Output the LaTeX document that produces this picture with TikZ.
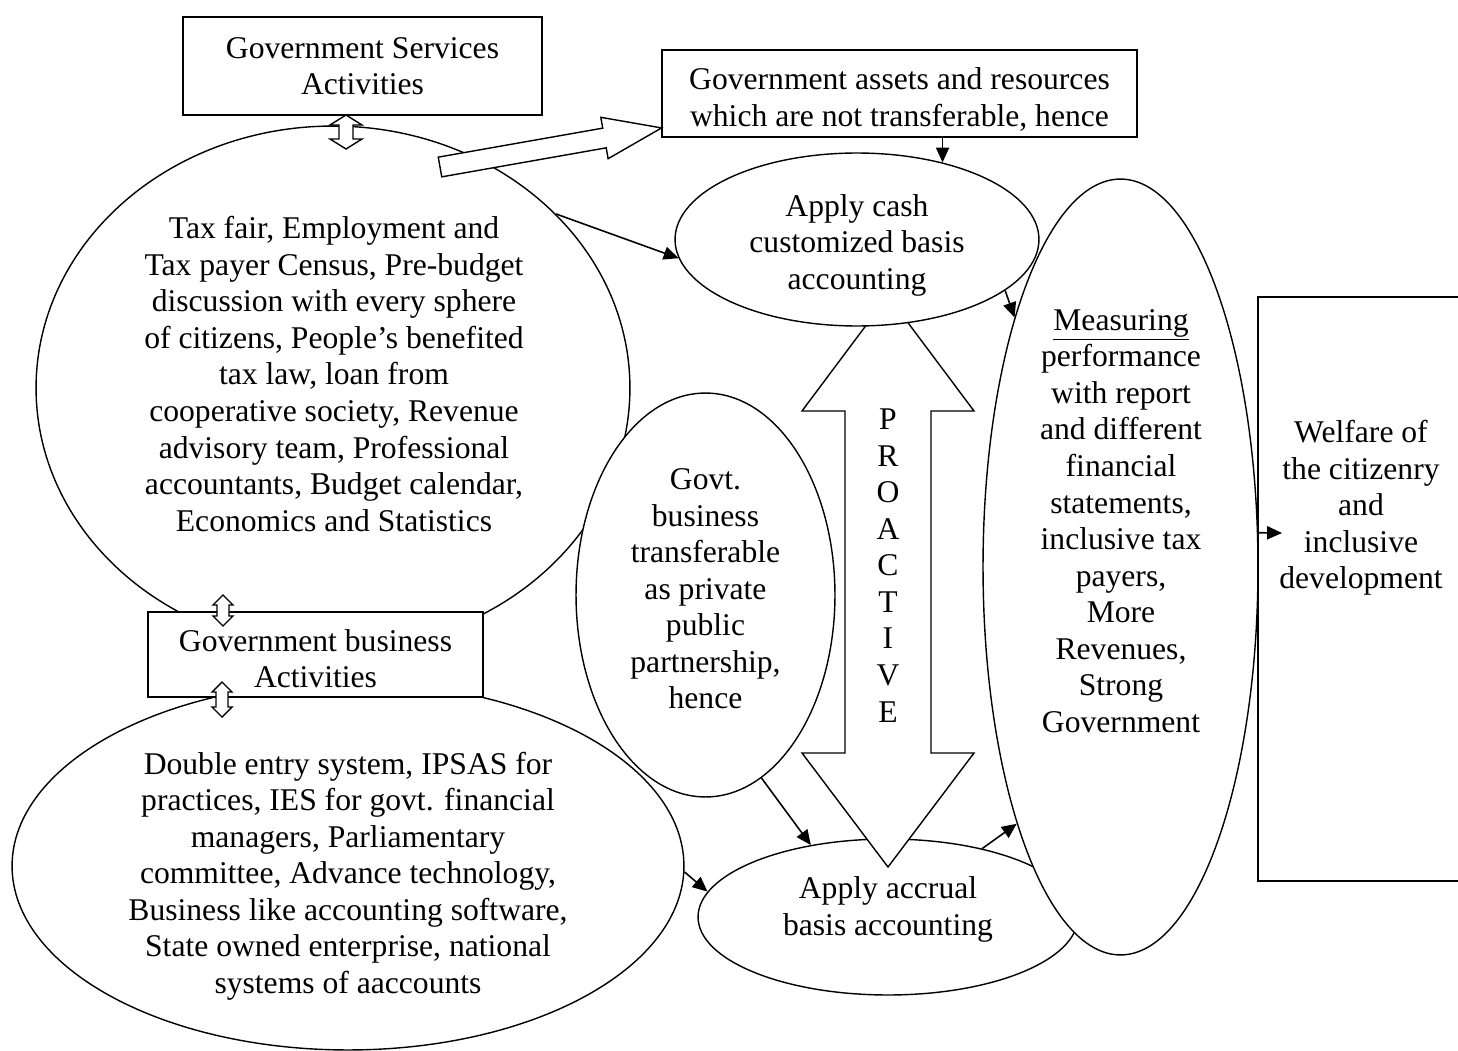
\documentclass[tikz,border=0pt]{standalone}
\usepackage{fontspec}
\setmainfont{Liberation Serif}
\usetikzlibrary{shapes.geometric, arrows.meta}

\tikzset{
  box/.style={draw, line width=1pt, fill=white, align=center, inner sep=0pt},
  oval/.style={draw, ellipse, line width=0.8pt, fill=white, inner sep=0pt},
  txt/.style={align=center, inner sep=0pt},
  hollow/.style={draw, line width=0.8pt, fill=white, line join=miter},
  link/.style={->, line width=0.9pt}
}

\begin{document}
\begin{tikzpicture}[x=0.02cm, y=-0.02cm, font=\fontsize{18}{20.8}\selectfont,
  >={Triangle[length=8.5pt,width=7.5pt]}]
\useasboundingbox (0,0) rectangle (1458,1051);

% ellipses
\node[oval, minimum width=11.88cm, minimum height=10.48cm] (svc) at (333,388) {};
\node[oval, minimum width=5.18cm, minimum height=8.08cm] (govt) at (705.5,595) {};
\node[oval, minimum width=13.44cm, minimum height=7.36cm] (biz) at (348,866) {};
\node[oval, minimum width=7.6cm, minimum height=3.12cm] (accrual) at (888,917) {};

% proactive arrow
\draw[hollow] (888,296) -- (974,411) -- (931,411) -- (931,753) -- (974,753) -- (888,867)
  -- (802,753) -- (845,753) -- (845,411) -- (802,411) -- cycle;

\node[oval, minimum width=7.28cm, minimum height=3.46cm] (cash) at (857,239.5) {};
\node[oval, minimum width=5.5cm, minimum height=15.52cm] (meas) at (1120.5,567) {};

% boxes
\node[box, minimum width=7.18cm, minimum height=1.96cm] (services) at (362.5,66)
  {Government Services\\Activities};
\node[box, minimum width=9.5cm, minimum height=1.74cm] (assets) at (899.5,93.5) {};
\node[box, minimum width=6.7cm, minimum height=1.7cm] (business) at (315.5,654.5) {};
\node[box, minimum width=4.12cm, minimum height=11.68cm] (welfare) at (1361,589) {};

% hollow arrows
\begin{scope}[shift={(440,167)}, rotate=10]
\draw[hollow] (0,-10) -- (167,-10) -- (167,-21) -- (225,0) -- (167,21) -- (167,10) -- (0,10) -- cycle;
\end{scope}
\draw[hollow] (346,115) -- (362,125) -- (353,125) -- (353,139) -- (362,139) -- (346,149)
  -- (330,139) -- (339,139) -- (339,125) -- (330,125) -- cycle;
\draw[hollow] (223,595) -- (233,605) -- (229,605) -- (229,616) -- (233,616) -- (223,626)
  -- (213,616) -- (217,616) -- (217,605) -- (213,605) -- cycle;
\draw[hollow] (222,682) -- (232,692) -- (228,692) -- (228,707) -- (232,707) -- (222,717)
  -- (212,707) -- (216,707) -- (216,692) -- (212,692) -- cycle;

% texts
\node[txt] (assetstext) at (899.5,99.5) {Government assets and resources\\which are not transferable, hence};
\node[txt] (businesstext) at (315.5,658.5) {Government business\\Activities};
\node[txt] (svctext) at (334,374) {Tax fair, Employment and\\Tax payer Census, Pre-budget\\discussion with every sphere\\of citizens, People’s benefited\\tax law, loan from\\cooperative society, Revenue\\advisory team, Professional\\accountants, Budget calendar,\\Economics and Statistics};
\node[txt] (govttext) at (705.5,589) {Govt.\\business\\transferable\\as private\\public\\partnership,\\hence};
\node[txt] (biztext) at (348,876) {Double entry system, IPSAS for\\practices, IES for govt. financial\\managers, Parliamentary\\committee, Advance technology,\\Business like accounting software,\\State owned enterprise, national\\systems of aaccounts};
\node[txt] (cashtext) at (857,245) {Apply cash\\customized basis\\accounting};
\node[txt] (accrualtext) at (888,909.5) {Apply accrual\\basis accounting};
\node[txt] (proactive) at (888,565.5) {P\\R\\O\\A\\C\\T\\I\\V\\E};
\node[txt] (meastext) at (1121,521) {\underline{Measuring}\\performance\\with report\\and different\\financial\\statements,\\inclusive tax\\payers,\\More\\Revenues,\\Strong\\Government};
\node[txt] (welfaretext) at (1361,508) {Welfare of\\the citizenry\\and\\inclusive\\development};

% connectors
\coordinate (wtip) at (1282,533);
\draw[link] (assets.south -| cash.42) -- (cash.42);
\draw[link] (svc.38) -- (cash.186);
\draw[link] (cash.-19) -- (meas.113);
\draw[link] (govt.-73) -- (accrual.137);
\draw[link] (biz.-1) -- (accrual.172);
\draw[link] (accrual.36) -- (meas.248);
\draw[link] (meas.14) -- (wtip);
\end{tikzpicture}
\end{document}
